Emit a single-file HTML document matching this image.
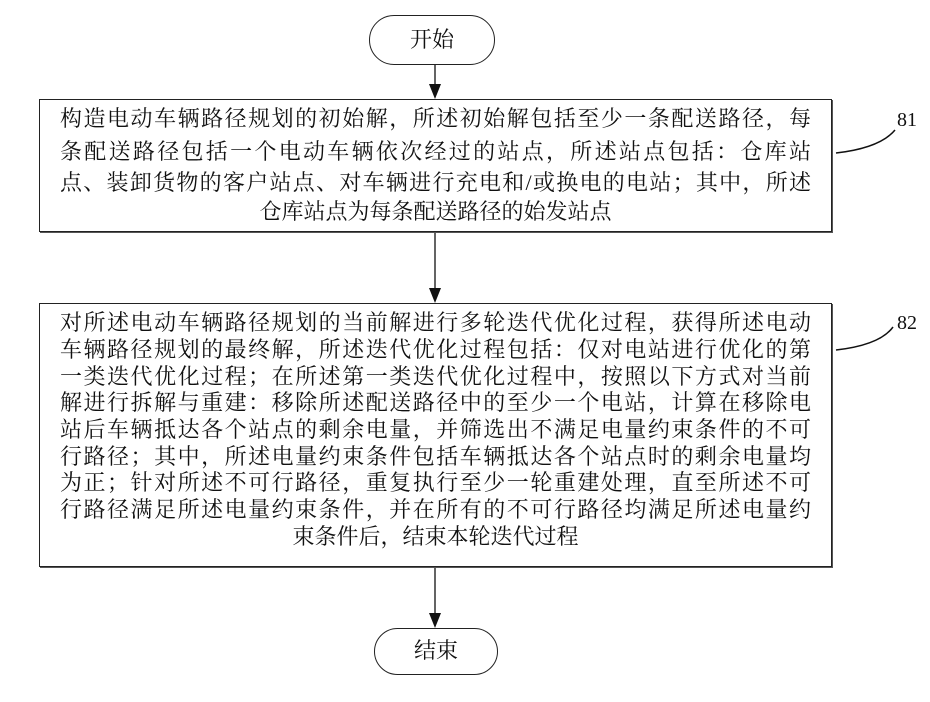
<!DOCTYPE html>
<html><head><meta charset="utf-8"><style>
body{margin:0;background:#fff;width:930px;height:702px;position:relative;overflow:hidden;font-family:"Liberation Serif","Noto Serif CJK SC",serif;color:#111}
.box{position:absolute;left:39px;width:793px;border:1.5px solid #222;box-shadow:1px 1px 0 #555;box-sizing:border-box}
.ln{position:absolute;left:20px;right:20px;font-size:22px;line-height:28px;height:28px;text-align:justify;text-align-last:justify;white-space:nowrap}
.c{text-align:center;text-align-last:center}
.term{position:absolute;border:1.5px solid #222;border-radius:26px;box-sizing:border-box;text-align:center;font-size:22px}
.lbl{position:absolute;font-size:20px}
</style></head><body>
<svg width="930" height="702" style="position:absolute;left:0;top:0">
<line x1="435" y1="65" x2="435" y2="86" stroke="#111" stroke-width="1.3"/>
<path d="M429,84 L441,84 L435,99 Z" fill="#111"/>
<line x1="435" y1="232" x2="435" y2="290" stroke="#111" stroke-width="1.3"/>
<path d="M429,288 L441,288 L435,303 Z" fill="#111"/>
<line x1="435" y1="567" x2="435" y2="615" stroke="#111" stroke-width="1.3"/>
<path d="M429,613 L441,613 L435,628 Z" fill="#111"/>
<path d="M836,153 Q880,148 895,130" fill="none" stroke="#111" stroke-width="1.5"/>
<path d="M836,350 Q880,345 893,327" fill="none" stroke="#111" stroke-width="1.5"/>
</svg>
<div class="term" style="left:369px;top:15px;width:126px;height:50px;line-height:47px">开始</div>
<div class="term" style="left:374px;top:628px;width:124px;height:47px;line-height:44px">结束</div>
<div class="lbl" style="left:897px;top:109px">81</div>
<div class="lbl" style="left:897px;top:312px">82</div>
<div class="box" style="top:99px;height:133px">
<div class="ln" style="top:5px">构造电动车辆路径规划的初始解，所述初始解包括至少一条配送路径，每</div>
<div class="ln" style="top:38px">条配送路径包括一个电动车辆依次经过的站点，所述站点包括：仓库站</div>
<div class="ln" style="top:69px">点、装卸货物的客户站点、对车辆进行充电和/或换电的电站；其中，所述</div>
<div class="ln c" style="top:98px">仓库站点为每条配送路径的始发站点</div>
</div>
<div class="box" style="top:303px;height:264px">
<div class="ln" style="top:5px">对所述电动车辆路径规划的当前解进行多轮迭代优化过程，获得所述电动</div>
<div class="ln" style="top:32px">车辆路径规划的最终解，所述迭代优化过程包括：仅对电站进行优化的第</div>
<div class="ln" style="top:59px">一类迭代优化过程；在所述第一类迭代优化过程中，按照以下方式对当前</div>
<div class="ln" style="top:85px">解进行拆解与重建：移除所述配送路径中的至少一个电站，计算在移除电</div>
<div class="ln" style="top:112px">站后车辆抵达各个站点的剩余电量，并筛选出不满足电量约束条件的不可</div>
<div class="ln" style="top:139px">行路径；其中，所述电量约束条件包括车辆抵达各个站点时的剩余电量均</div>
<div class="ln" style="top:165px">为正；针对所述不可行路径，重复执行至少一轮重建处理，直至所述不可</div>
<div class="ln" style="top:192px">行路径满足所述电量约束条件，并在所有的不可行路径均满足所述电量约</div>
<div class="ln c" style="top:219px">束条件后，结束本轮迭代过程</div>
</div>
</body></html>
